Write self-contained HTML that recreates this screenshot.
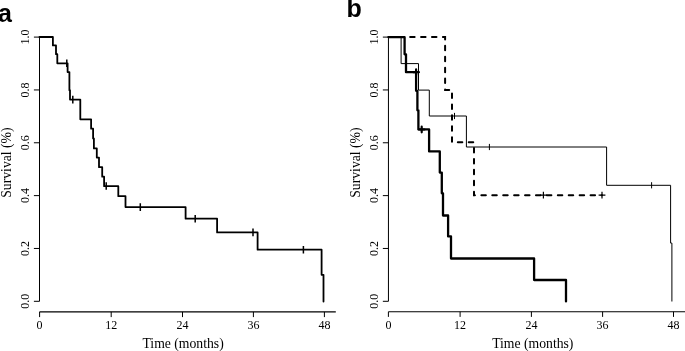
<!DOCTYPE html>
<html><head><meta charset="utf-8"><style>
html,body{margin:0;padding:0;background:#fff;}
svg{display:block;will-change:transform;filter:blur(0.3px);}
.ax{fill:none;stroke:#000;stroke-width:1;}
.tk{font-family:"Liberation Serif",serif;font-size:12px;fill:#000;}
.lb{font-family:"Liberation Serif",serif;font-size:13.7px;fill:#000;}
.pl{font-family:"Liberation Sans",sans-serif;font-size:25px;font-weight:bold;fill:#000;}
</style></head><body>
<svg width="685" height="351" viewBox="0 0 685 351">
<rect width="685" height="351" fill="#fff"/>
<text x="-2.0" y="22.0" class="pl">a</text>
<text x="346.6" y="17.4" class="pl">b</text>
<path d="M39.5 37.1 V301.3" class="ax"/>
<path d="M33.9 301.30 H39.5" class="ax"/>
<text x="0" y="0" transform="translate(29.2 301.30) rotate(-90)" class="tk" text-anchor="middle">0.0</text>
<path d="M33.9 248.46 H39.5" class="ax"/>
<text x="0" y="0" transform="translate(29.2 248.46) rotate(-90)" class="tk" text-anchor="middle">0.2</text>
<path d="M33.9 195.62 H39.5" class="ax"/>
<text x="0" y="0" transform="translate(29.2 195.62) rotate(-90)" class="tk" text-anchor="middle">0.4</text>
<path d="M33.9 142.78 H39.5" class="ax"/>
<text x="0" y="0" transform="translate(29.2 142.78) rotate(-90)" class="tk" text-anchor="middle">0.6</text>
<path d="M33.9 89.94 H39.5" class="ax"/>
<text x="0" y="0" transform="translate(29.2 89.94) rotate(-90)" class="tk" text-anchor="middle">0.8</text>
<path d="M33.9 37.10 H39.5" class="ax"/>
<text x="0" y="0" transform="translate(29.2 37.10) rotate(-90)" class="tk" text-anchor="middle">1.0</text>
<path d="M39.5 311.9 H335.8" class="ax" style="stroke-width:1.1"/>
<path d="M39.60 311.9 V317.09999999999997" class="ax"/>
<text x="39.60" y="329.1" class="tk" text-anchor="middle">0</text>
<path d="M111.20 311.9 V317.09999999999997" class="ax"/>
<text x="111.20" y="329.1" class="tk" text-anchor="middle">12</text>
<path d="M182.50 311.9 V317.09999999999997" class="ax"/>
<text x="182.50" y="329.1" class="tk" text-anchor="middle">24</text>
<path d="M253.40 311.9 V317.09999999999997" class="ax"/>
<text x="253.40" y="329.1" class="tk" text-anchor="middle">36</text>
<path d="M324.40 311.9 V317.09999999999997" class="ax"/>
<text x="324.40" y="329.1" class="tk" text-anchor="middle">48</text>
<text x="183.1" y="347.6" class="lb" text-anchor="middle">Time (months)</text>
<text x="0" y="0" transform="translate(10.7 162.6) rotate(-90)" class="lb" text-anchor="middle">Survival (%)</text>
<path d="M388.45 37.1 V301.3" class="ax"/>
<path d="M382.84999999999997 301.30 H388.45" class="ax"/>
<text x="0" y="0" transform="translate(378.15 301.30) rotate(-90)" class="tk" text-anchor="middle">0.0</text>
<path d="M382.84999999999997 248.46 H388.45" class="ax"/>
<text x="0" y="0" transform="translate(378.15 248.46) rotate(-90)" class="tk" text-anchor="middle">0.2</text>
<path d="M382.84999999999997 195.62 H388.45" class="ax"/>
<text x="0" y="0" transform="translate(378.15 195.62) rotate(-90)" class="tk" text-anchor="middle">0.4</text>
<path d="M382.84999999999997 142.78 H388.45" class="ax"/>
<text x="0" y="0" transform="translate(378.15 142.78) rotate(-90)" class="tk" text-anchor="middle">0.6</text>
<path d="M382.84999999999997 89.94 H388.45" class="ax"/>
<text x="0" y="0" transform="translate(378.15 89.94) rotate(-90)" class="tk" text-anchor="middle">0.8</text>
<path d="M382.84999999999997 37.10 H388.45" class="ax"/>
<text x="0" y="0" transform="translate(378.15 37.10) rotate(-90)" class="tk" text-anchor="middle">1.0</text>
<path d="M388.45 311.7 H686" class="ax" style="stroke-width:1.1"/>
<path d="M388.40 311.7 V316.9" class="ax"/>
<text x="388.40" y="329.1" class="tk" text-anchor="middle">0</text>
<path d="M460.10 311.7 V316.9" class="ax"/>
<text x="460.10" y="329.1" class="tk" text-anchor="middle">12</text>
<path d="M531.40 311.7 V316.9" class="ax"/>
<text x="531.40" y="329.1" class="tk" text-anchor="middle">24</text>
<path d="M602.60 311.7 V316.9" class="ax"/>
<text x="602.60" y="329.1" class="tk" text-anchor="middle">36</text>
<path d="M673.50 311.7 V316.9" class="ax"/>
<text x="673.50" y="329.1" class="tk" text-anchor="middle">48</text>
<text x="532.8" y="347.6" class="lb" text-anchor="middle">Time (months)</text>
<text x="0" y="0" transform="translate(359.65 162.6) rotate(-90)" class="lb" text-anchor="middle">Survival (%)</text>
<path d="M39.5 37 H52.9 V45.4 H56 V54.2 H57.3 V63.3 H67.6 V72.1 H69.4 V90.2 H70 V99.6 H80.3 V119.3 H91.1 V128.7 H93.1 V138.4 H93.9 V148.4 H96.8 V157.6 H99 V167.2 H102.2 V176.7 H104.1 V186.2 H118.3 V196.2 H125.5 V207.1 H185.6 V218.7 H217.1 V232.4 H257.6 V249.7 H321.6 V274.8 H323.5 V301.5" fill="none" stroke="#000" stroke-width="1.8" stroke-linejoin="round" stroke-linecap="round"/>
<path d="M66.8 59.5V67.1M72.8 95.8V103.39999999999999M106.2 182.2V189.8M140.3 203.29999999999998V210.9M195.2 214.89999999999998V222.5M253 228.6V236.20000000000002M303.4 245.89999999999998V253.5" fill="none" stroke="#000" stroke-width="1.5"/>
<path d="M388.3 37.1 H401.1 V63.6 H418.5 V90.1 H429.3 V116 H466.4 V147.0 H606.6 V185.3 H670.6 V243.1 H671.9 V301.5" fill="none" stroke="#000" stroke-width="1" stroke-linejoin="round"/>
<path d="M454.5 112.9V119.1M489.4 143.9V150.1M651.6 182.20000000000002V188.4" fill="none" stroke="#000" stroke-width="1"/>
<path d="M388.3 37.1 H445.1 V89.9 H452 V142.3 H474 V195.2 H602" fill="none" stroke="#000" stroke-width="2" stroke-dasharray="4.5 6.42" stroke-linecap="round"/>
<path d="M540.0 195.2H546.8M543.4 191.79999999999998V198.6M598.6 195.2H605.4M602 191.79999999999998V198.6" fill="none" stroke="#000" stroke-width="1.2"/>
<path d="M388.9 37.2 H404.6 V54.3 H406 V72.2 H416.1 V90.8 H417.4 V110.3 H418.4 V129.4 H429.1 V151.4 H439.8 V172.6 H441.8 V193.3 H443 V215.5 H448.1 V236.4 H451 V258.5 H534.1 V280 H566 V301.4" fill="none" stroke="#000" stroke-width="2.3" stroke-linejoin="round" stroke-linecap="round"/>
<path d="M413.3 72.2H418.90000000000003M416.1 69.4V75.0M418.9 129.5H424.5M421.7 126.7V132.3" fill="none" stroke="#000" stroke-width="2.2" stroke-linecap="round"/>
</svg>
</body></html>
